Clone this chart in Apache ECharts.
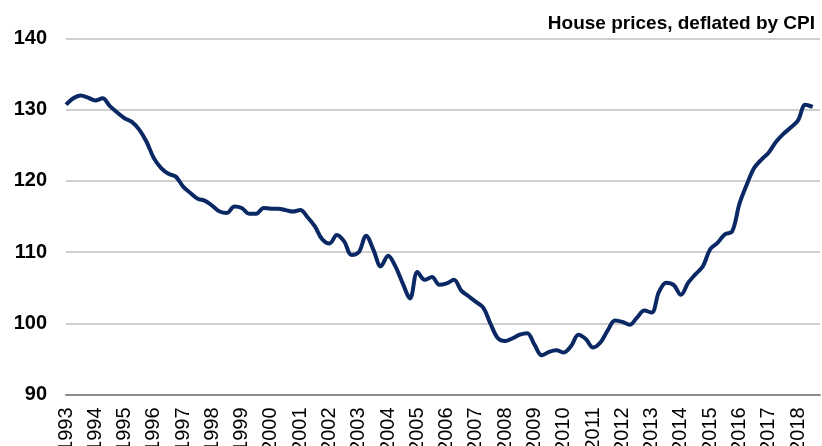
<!DOCTYPE html>
<html>
<head>
<meta charset="utf-8">
<script src="https://cdn.jsdelivr.net/npm/echarts@6/dist/echarts.min.js"></script>
<style>
  html, body { margin: 0; padding: 0; background: #fff; }
  #chart { width: 822px; height: 446px; }
</style>
</head>
<body>
<div id="chart"></div>
<script>
// quarterly series, 1993Q1 .. 2018Q3
var years = ['1993','1994','1995','1996','1997','1998','1999','2000','2001','2002','2003','2004','2005',
  '2006','2007','2008','2009','2010','2011','2012','2013','2014','2015','2016','2017','2018']
var yTicks = [90, 100, 110, 120, 130, 140]
var housePrices = [
  130.7, 131.6, 132.0, 131.7, 131.3, 131.6, 130.5, 129.6,
  128.8, 128.3, 127.2, 125.5, 123.2, 121.8, 121.0, 120.6,
  119.2, 118.3, 117.5, 117.2, 116.5, 115.7, 115.5, 116.4,
  116.2, 115.4, 115.4, 116.2, 116.1, 116.1, 115.9, 115.7,
  115.9, 114.9, 113.6, 111.8, 111.2, 112.4, 111.5, 109.6,
  110.0, 112.3, 110.3, 108.0, 109.5, 108.0, 105.6, 103.5,
  107.2, 106.1, 106.5, 105.4, 105.6, 106.1, 104.6, 103.8,
  103.0, 102.2, 99.9, 97.9, 97.5, 97.9, 98.4, 98.6,
  97.0, 95.5, 96.0, 96.2, 95.9, 96.8, 98.4, 97.8,
  96.6, 97.3, 99.0, 100.4, 100.2, 99.8, 100.8, 101.8,
  101.5, 104.4, 105.7, 105.4, 104.0, 105.7, 106.9, 108.0,
  110.4, 111.3, 112.5, 112.9, 116.8, 119.5, 121.8, 123.0,
  124.0, 125.5, 126.6, 127.5, 128.5, 130.7, 130.4
]

var quarters = []
years.forEach(function (y) {
  for (var q = 0; q < 4; q++) {
    quarters.push(q === 0 ? y : y + 'Q' + (q + 1))
  }
})

var font = 'Liberation Sans, Arial, sans-serif'
var chart = echarts.init(document.getElementById('chart'))

var option = {
  animation: false,
  title: {
    text: 'House prices, deflated by CPI',
    right: 2,
    top: 9,
    textStyle: { fontFamily: font, fontSize: 19, fontWeight: 'bold', color: '#000' }
  },
  grid: {
    left: 66, right: 2, top: 38.5, bottom: 51.5,
    containLabel: false,
    outerBoundsMode: 'none'
  },
  xAxis: {
    type: 'category',
    data: quarters,
    boundaryGap: false,
    axisLine: { lineStyle: { color: '#8c8c8c', width: 2 } },
    axisTick: { show: false },
    axisLabel: {
      rotate: 90,
      margin: 13,
      interval: function (i) { return i % 4 === 0 },
      fontFamily: font,
      fontSize: 20,
      color: '#000'
    },
    splitLine: { show: false }
  },
  yAxis: {
    type: 'value',
    min: yTicks[0],
    max: yTicks[yTicks.length - 1],
    interval: 10,
    axisLine: { show: false },
    axisTick: { show: false },
    axisLabel: {
      margin: 19,
      fontFamily: font,
      fontSize: 20,
      fontWeight: 'bold',
      color: '#000'
    },
    splitLine: { lineStyle: { color: '#bfbfbf', width: 1.5 } }
  },
  series: [{
    name: 'House prices',
    type: 'line',
    data: housePrices,
    smooth: 0.35,
    symbol: 'none',
    lineStyle: { color: '#0a2864', width: 4 }
  }]
}
chart.setOption(option)
</script>
</body>
</html>
